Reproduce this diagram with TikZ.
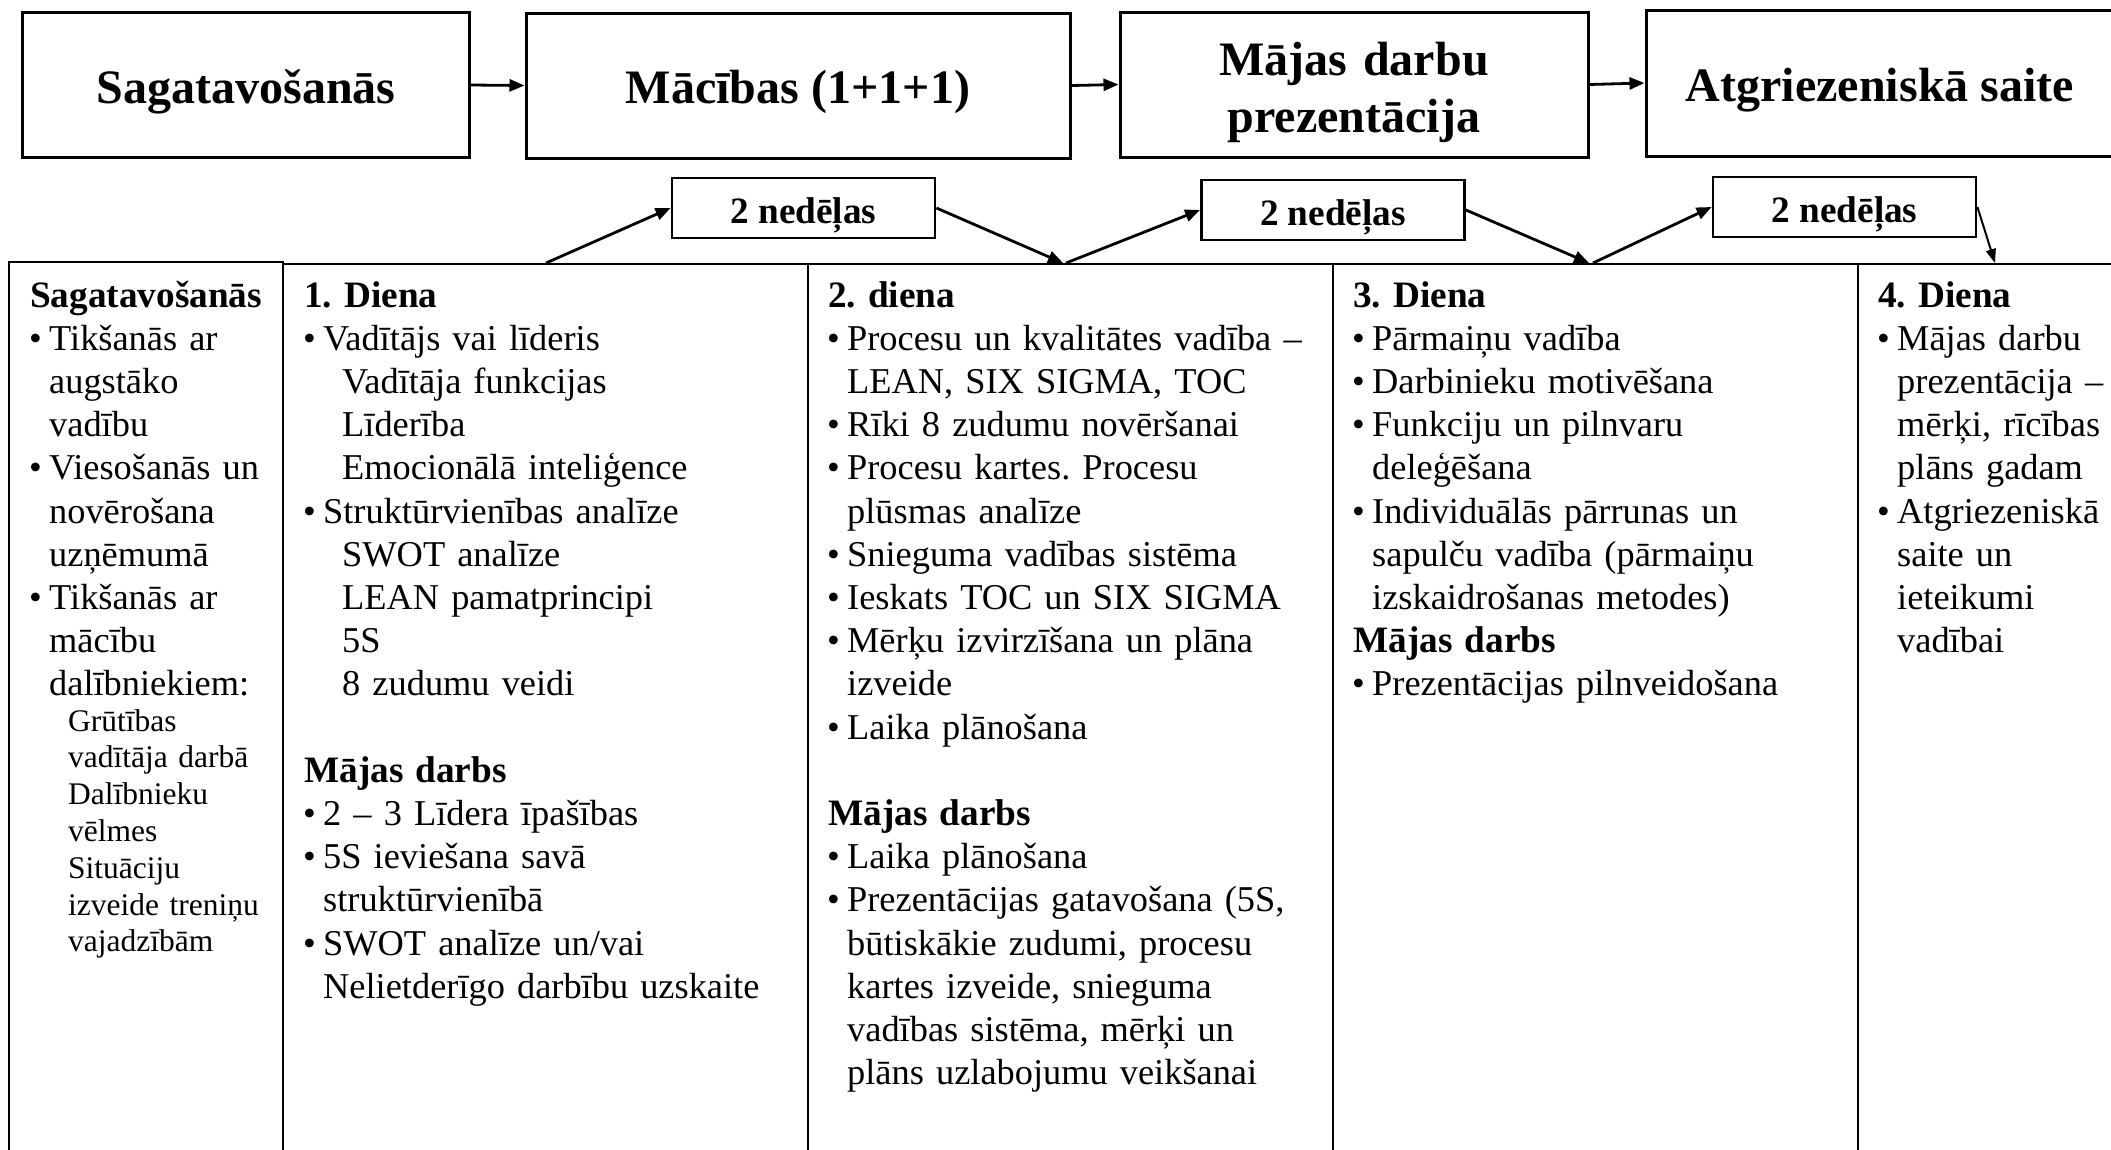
\documentclass[tikz,border=0pt]{standalone}
\usepackage{fontspec}
\setmainfont{Liberation Serif}
\usetikzlibrary{arrows.meta}
\frenchspacing
\newcommand\fbody{\fontsize{36.5pt}{43.2bp}\selectfont}
\newcommand\fhd{\fontsize{37.4pt}{43.2bp}\selectfont\bfseries}
\newcommand\fsmall{\fontsize{31.6pt}{36.8bp}\selectfont}
\newcommand\ftitle{\fontsize{48.2pt}{57bp}\selectfont\bfseries}
\newcommand\hd[1]{{\fhd #1}}
\newcommand\bu{\makebox[19bp][l]{\hspace{-1bp}•}}
\newcommand\ct{\hspace*{19bp}}
\newcommand\sbi{\hspace*{38bp}}
\begin{document}
\begin{tikzpicture}[x=1bp,y=-1bp,
  topbox/.style={draw,line width=3bp,inner sep=0pt,font=\ftitle,align=center,text height=36bp,text depth=0bp},
  wkbox/.style={draw,line width=2.8bp,inner sep=0pt,minimum width=263bp,minimum height=60bp,font=\fhd,text height=30bp,text depth=0bp},
  conn/.style={line width=2.8bp,-{Triangle[length=15bp,width=12bp]}},
  rule/.style={line width=2.8bp},
  coltext/.style={anchor=base west,inner sep=0pt,text width=560bp,align=left,font=\fbody},
  smalltext/.style={anchor=base west,inner sep=0pt,text width=300bp,align=left,font=\fsmall},
]
\useasboundingbox (0,0) rectangle (2111,1149);
\fill[white] (0,0) rectangle (2111,1149);
\clip (0,0) rectangle (2111,1149);

% top process boxes
\node[topbox,minimum width=446bp,minimum height=145bp] (b1) at (246,85) {Sagatavošanās};
\node[topbox,minimum width=544bp,minimum height=145bp] (b2) at (798,85.5) {Mācības (1+1+1)};
\node[topbox,text width=460bp,minimum width=468bp,minimum height=145bp,text height=30bp,text depth=48bp] (b3) at (1354,84.5) {Mājas darbu\\prezentācija};
\node[topbox,minimum width=468bp,minimum height=146bp] (b4) at (1880,83) {Atgriezeniskā saite};

\draw[conn] (b1.east) -- (b2.west);
\draw[conn] (b2.east) -- (b3.west);
\draw[conn] (b3.east) -- (b4.west);

% week boxes
\node[wkbox] (w1) at (803.5,208) {2 nedēļas};
\node[wkbox] (w2) at (1333,210) {2 nedēļas};
\node[wkbox] (w3) at (1844.5,207) {2 nedēļas};

% table
\draw[rule] (9,1160) -- (9,262) -- (283,262) -- (283,1160);
\draw[rule] (283,264) -- (2120,264);
\draw[rule] (808,264) -- (808,1160);
\draw[rule] (1333,264) -- (1333,1160);
\draw[rule] (1858,264) -- (1858,1160);

% connector ends on the table top
\coordinate (t1) at (546,263);
\coordinate (t2) at (1063,263);
\coordinate (t3) at (1066,263);
\coordinate (t4) at (1589,263);
\coordinate (t5) at (1593,263);
\coordinate (t6) at (1995,263);

\draw[conn] (t1) -- (w1.west);
\draw[conn] (w1.east) -- (t2);
\draw[conn] (t3) -- (w2.west);
\draw[conn] (w2.east) -- (t4);
\draw[conn] (t5) -- (w3.west);
\draw[line width=2bp,-{Triangle[length=14bp,width=10bp]}] (w3.east) -- (t6);

% column texts
\node[coltext] (c1) at (30,307) {\hd{Sagatavošanās}\\
\bu Tikšanās ar\\
\ct augstāko\\
\ct vadību\\
\bu Viesošanās un\\
\ct novērošana\\
\ct uzņēmumā\\
\bu Tikšanās ar\\
\ct mācību\\
\ct dalībniekiem:};

\node[smalltext] (c1s) at (68,731) {Grūtības\\
vadītāja darbā\\
Dalībnieku\\
vēlmes\\
Situāciju\\
izveide treniņu\\
vajadzībām};

\node[coltext] (c2) at (304,307) {\hd{1. Diena}\\
\bu Vadītājs vai līderis\\
\sbi Vadītāja funkcijas\\
\sbi Līderība\\
\sbi Emocionālā inteliģence\\
\bu Struktūrvienības analīze\\
\sbi SWOT analīze\\
\sbi LEAN pamatprincipi\\
\sbi 5S\\
\sbi 8 zudumu veidi\\[43.2bp]
\hd{Mājas darbs}\\
\bu 2 – 3 Līdera īpašības\\
\bu 5S ieviešana savā\\
\ct struktūrvienībā\\
\bu SWOT analīze un/vai\\
\ct Nelietderīgo darbību uzskaite};

\node[coltext] (c3) at (828,307) {\hd{2. diena}\\
\bu Procesu un kvalitātes vadība –\\
\ct LEAN, SIX SIGMA, TOC\\
\bu Rīki 8 zudumu novēršanai\\
\bu Procesu kartes. Procesu\\
\ct plūsmas analīze\\
\bu Snieguma vadības sistēma\\
\bu Ieskats TOC un SIX SIGMA\\
\bu Mērķu izvirzīšana un plāna\\
\ct izveide\\
\bu Laika plānošana\\[43.2bp]
\hd{Mājas darbs}\\
\bu Laika plānošana\\
\bu Prezentācijas gatavošana (5S,\\
\ct būtiskākie zudumi, procesu\\
\ct kartes izveide, snieguma\\
\ct vadības sistēma, mērķi un\\
\ct plāns uzlabojumu veikšanai};

\node[coltext] (c4) at (1353,307) {\hd{3. Diena}\\
\bu Pārmaiņu vadība\\
\bu Darbinieku motivēšana\\
\bu Funkciju un pilnvaru\\
\ct deleģēšana\\
\bu Individuālās pārrunas un\\
\ct sapulču vadība (pārmaiņu\\
\ct izskaidrošanas metodes)\\
\hd{Mājas darbs}\\
\bu Prezentācijas pilnveidošana};

\node[coltext] (c5) at (1878,307) {\hd{4. Diena}\\
\bu Mājas darbu\\
\ct prezentācija –\\
\ct mērķi, rīcības\\
\ct plāns gadam\\
\bu Atgriezeniskā\\
\ct saite un\\
\ct ieteikumi\\
\ct vadībai};
\end{tikzpicture}
\end{document}
